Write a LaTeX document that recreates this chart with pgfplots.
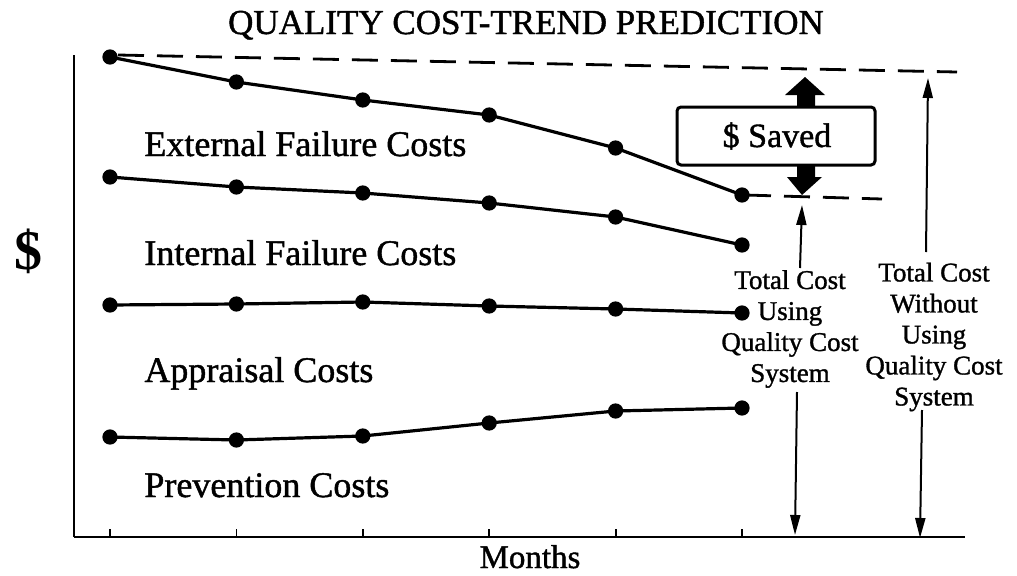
\documentclass[border=0pt]{standalone}
\usepackage{pgfplots}
\pgfplotsset{compat=1.18}
\usepackage{fontspec}
\setmainfont{Liberation Serif}
\newfontfamily\heavy{Liberation Serif}[FakeBold=1.2]
\usetikzlibrary{arrows.meta}
\begin{document}
\begin{tikzpicture}
\begin{axis}[
  x=63.2pt, y=0.5pt,
  xmin=0.7152, xmax=7.764, ymin=0, ymax=482,
  axis lines*=left,
  axis line style={line width=1.3pt, black},
  xtick={1,2,3,4,5,6}, xticklabels={},
  ytick=\empty,
  xtick pos=bottom,
  xtick align=inside,
  major tick length=4pt,
  tick style={line width=0.9pt, black},
  clip=false,
  cost/.style={black, line width=1.6pt, mark=*, mark size=3pt, mark options={solid, fill=black}},
]
% External failure costs
\addplot[cost] coordinates {(1,480) (2,455) (3,437) (4,422) (5,389) (6,342)};
% Internal failure costs
\addplot[cost] coordinates {(1,360) (2,350) (3,344) (4,334) (5,320) (6,292)};
% Appraisal costs
\addplot[cost] coordinates {(1,232) (2,233) (3,235) (4,231) (5,228) (6,224)};
% Prevention costs
\addplot[cost] coordinates {(1,100) (2,97) (3,101) (4,114) (5,126) (6,129)};
\coordinate (O) at (rel axis cs:0,0);
\end{axis}
\begin{scope}[shift={(O)}, x=0.5pt, y=-0.5pt, shift={(-74,-537)}]
\path (0,0) rectangle (1017,575);
% title
\node[anchor=base, inner sep=0] at (526,34) {\heavy\fontsize{17.5}{21}\selectfont QUALITY COST-TREND PREDICTION};
% series labels
\node[anchor=base west, inner sep=0] at (144,156) {\heavy\fontsize{18}{21}\selectfont External Failure Costs};
\node[anchor=base west, inner sep=0] at (144,265) {\heavy\fontsize{18}{21}\selectfont Internal Failure Costs};
\node[anchor=base west, inner sep=0] at (144,382) {\heavy\fontsize{18}{21}\selectfont Appraisal Costs};
\node[anchor=base west, inner sep=0] at (144,497) {\heavy\fontsize{18}{21}\selectfont Prevention Costs};
% axis labels
\node[anchor=base, inner sep=0] at (530,568) {\heavy\fontsize{16.5}{19}\selectfont Months};
\node[inner sep=0] at (28,251) {\fontsize{28}{30}\selectfont\bfseries \$};
% dashed reference lines
\draw[line width=1.4pt, dash pattern=on 13pt off 6.5pt] (118,55) -- (957,72);
\draw[line width=1.4pt, dash pattern=on 13pt off 6.5pt] (745,195) -- (882,199);
% saved box
\draw[line width=1.5pt, rounded corners=2pt, fill=white] (677,107) rectangle (875,165);
\node[inner sep=0] at (777,136) {\heavy\fontsize{17}{20}\selectfont \$ Saved};
\fill (797,107) -- (815,107) -- (815,95) -- (825,95) -- (805,77) -- (785,95) -- (797,95) -- cycle;
\fill (797,165) -- (815,165) -- (815,177) -- (822,177) -- (802,195) -- (787,177) -- (797,177) -- cycle;
% thin arrows
\draw[line width=1pt, -{Triangle[length=10pt,width=5pt]}] (800,268) -- (802,205);
\draw[line width=1pt, -{Triangle[length=10pt,width=5pt]}] (797,392) -- (795,535);
\draw[line width=1pt, -{Triangle[length=10pt,width=5pt]}] (926,252) -- (928,78);
\draw[line width=1pt, -{Triangle[length=10pt,width=5pt]}] (922,410) -- (920,538);
% side texts
\node[align=center, inner sep=0, font=\heavy\fontsize{13.5}{15.5}\selectfont] at (790,329) {Total Cost\\Using\\Quality Cost\\System};
\node[align=center, inner sep=0, font=\heavy\fontsize{13.5}{15.5}\selectfont] at (934,337) {Total Cost\\Without\\Using\\Quality Cost\\System};
\end{scope}
\end{tikzpicture}
\end{document}
